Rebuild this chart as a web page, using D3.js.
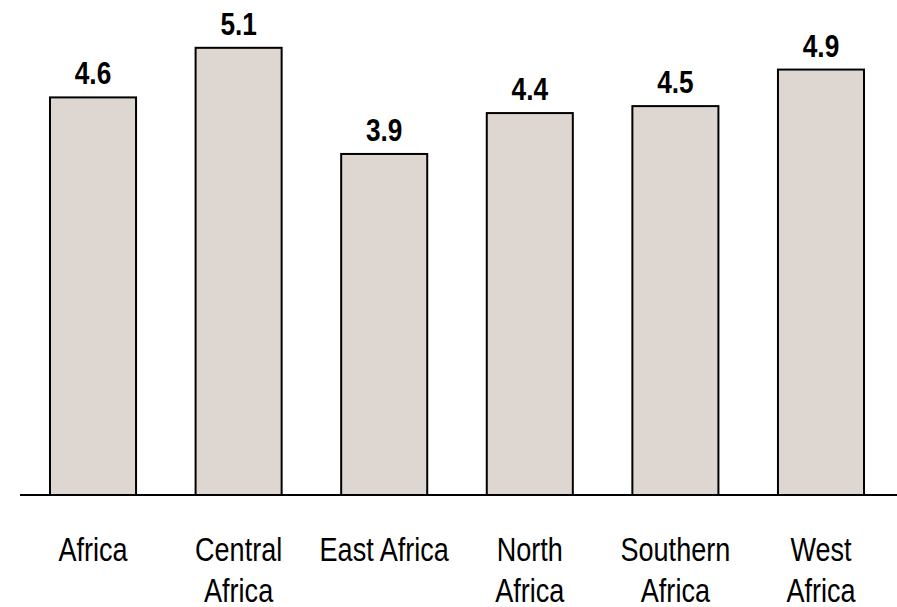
<html>
<head>
    <script src="https://d3js.org/d3.v7.min.js"></script>
    <style>
        body {
            margin: 0;
            background: #fff;
        }
        .value {
            font: bold 32px "Liberation Sans", Arial, sans-serif;
        }
        .x.axis text {
            font-family: "Liberation Sans", Arial, sans-serif;
            font-size: 33px;
            fill: #000;
        }
    </style>
</head>
<body>
    <svg id="chart" width="897" height="607"></svg>
    <script>
        // data
        const categories = ["Africa", "Central Africa", "East Africa", "North Africa", "Southern Africa", "West Africa"];
        const labelLines = [["Africa"], ["Central", "Africa"], ["East Africa"], ["North", "Africa"], ["Southern", "Africa"], ["West", "Africa"]];
        const values = [4.57, 5.14, 3.92, 4.39, 4.47, 4.89];

        const svg = d3.select("svg#chart");
        const width = +svg.attr("width");
        const baseY = 495;
        const narrow = 0.82; // squeeze to mimic a narrow face

        const x = d3.scaleBand()
            .domain(categories)
            .range([20, 894])
            .paddingInner(0.409)
            .paddingOuter(0.206);

        const y = d3.scaleLinear()
            .domain([0, 5.5])
            .range([baseY, baseY - 5.5 * 87]);

        // bars
        svg.append("g").selectAll("rect")
            .data(values)
            .join("rect")
            .attr("x", (d, i) => x(categories[i]))
            .attr("y", d => y(d))
            .attr("width", x.bandwidth())
            .attr("height", d => y(0) - y(d))
            .attr("fill", "#ded6d0")
            .attr("stroke", "#000")
            .attr("stroke-width", 2);

        // value labels
        svg.append("g").selectAll("text")
            .data(values)
            .join("text")
            .attr("class", "value")
            .attr("transform", (d, i) =>
                `translate(${x(categories[i]) + x.bandwidth() / 2},${y(d) - 13}) scale(${narrow},1)`)
            .attr("text-anchor", "middle")
            .text(d => d3.format(".1f")(d));

        // x axis
        const xAxis = svg.append("g")
            .attr("class", "x axis")
            .attr("transform", `translate(0,${baseY})`)
            .call(d3.axisBottom(x).tickSize(0));
        xAxis.select(".domain").remove();
        xAxis.selectAll(".tick text").each(function (d, i) {
            const t = d3.select(this).text(null)
                .attr("y", 66).attr("dy", null)
                .attr("transform", `scale(${narrow},1)`);
            labelLines[i].forEach((line, j) => {
                t.append("tspan")
                    .attr("x", 0)
                    .attr("dy", j === 0 ? 0 : 41.5)
                    .text(line);
            });
        });

        svg.append("line")
            .attr("x1", 20)
            .attr("x2", width)
            .attr("y1", baseY)
            .attr("y2", baseY)
            .attr("stroke", "#000")
            .attr("stroke-width", 2);
    </script>
</body>
</html>
